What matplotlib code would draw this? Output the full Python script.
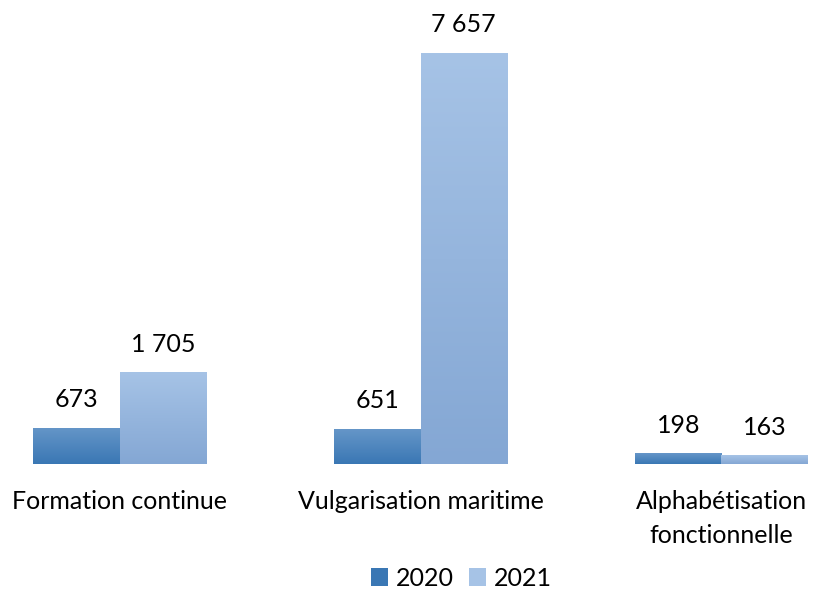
import numpy as np
import matplotlib.pyplot as plt
from matplotlib.colors import LinearSegmentedColormap
from matplotlib.patches import Patch

plt.rcParams['font.family'] = ['Lato', 'DejaVu Sans']

categories = ["Formation continue", "Vulgarisation maritime", "Alphabétisation\nfonctionnelle"]
years = ["2020", "2021"]
values_2020 = [673, 651, 198]
values_2021 = [1705, 7657, 163]
value_labels_2020 = ["673", "651", "198"]
value_labels_2021 = ["1 705", "7 657", "163"]

# top colour, bottom colour for each series
grad_2020 = ("#6596c8", "#3a77b4")
grad_2021 = ("#a6c3e6", "#84a7d4")

fig = plt.figure(figsize=(8.13, 5.92), dpi=100)
ax = fig.add_axes([0, 128 / 592, 1, 464 / 592])

x = np.arange(len(categories))
w = 0.2875
ymax = 7657 * 464 / 411

def gradient_bars(xs, vals, cols):
    bars = ax.bar(xs, vals, width=w, color="none", edgecolor="none")
    cmap = LinearSegmentedColormap.from_list("g", [cols[1], cols[0]])
    grad = np.linspace(0, 1, 256).reshape(-1, 1)
    for b in bars:
        x0, y0 = b.get_x(), b.get_y()
        im = ax.imshow(grad, cmap=cmap, origin="lower", aspect="auto",
                       extent=[x0, x0 + b.get_width(), y0, y0 + b.get_height()],
                       zorder=2)
        im.set_clip_path(b)
    return bars

gradient_bars(x - w / 2, values_2020, grad_2020)
gradient_bars(x + w / 2, values_2021, grad_2021)

for i in range(len(categories)):
    ax.annotate(value_labels_2020[i], (x[i] - w / 2, values_2020[i]),
                xytext=(0, 12), textcoords="offset points",
                ha="center", va="bottom", fontsize=18)
    ax.annotate(value_labels_2021[i], (x[i] + w / 2, values_2021[i]),
                xytext=(0, 12), textcoords="offset points",
                ha="center", va="bottom", fontsize=18)

ax.set_xlim(-119.5 / 301, (813 - 119.5) / 301)
ax.set_ylim(0, ymax)
ax.set_xticks(x)
ax.set_xticklabels(categories, fontsize=18, va="top", linespacing=1.55)
ax.tick_params(axis="x", length=0, pad=19)
ax.set_yticks([])
for s in ax.spines.values():
    s.set_visible(False)

handles = [Patch(facecolor=grad_2020[1]), Patch(facecolor=grad_2021[0])]
fig.legend(handles, years, loc="center", bbox_to_anchor=(461 / 813, 1 - 578 / 592),
           ncol=2, frameon=False, fontsize=18, handlelength=0.7, handleheight=0.7,
           handletextpad=0.3, columnspacing=0.6)

plt.savefig("out.png", dpi=100)
